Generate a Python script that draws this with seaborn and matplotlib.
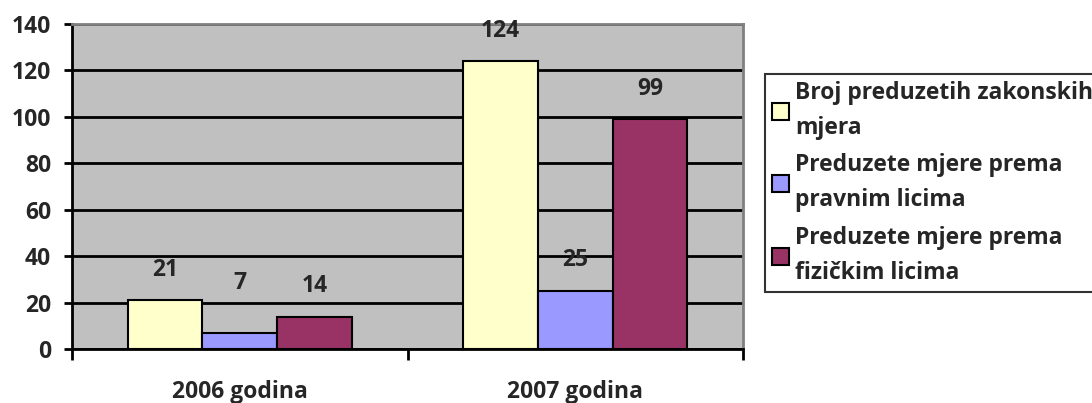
import matplotlib
matplotlib.use("Agg")
import matplotlib.pyplot as plt
import pandas as pd
import seaborn as sns

# === Data ===
years = ["2006 godina", "2007 godina"]
series = ["Broj preduzetih zakonskih\nmjera",
          "Preduzete mjere prema\npravnim licima",
          "Preduzete mjere prema\nfizičkim licima"]
broj_mjera = [21, 124]
pravna_lica = [7, 25]
fizicka_lica = [14, 99]
colors = ["#FFFFCC", "#9999FF", "#993366"]

df = pd.DataFrame({
    "godina": years * 3,
    "serija": [series[0]] * 2 + [series[1]] * 2 + [series[2]] * 2,
    "vrijednost": broj_mjera + pravna_lica + fizicka_lica,
})

sns.set_style("white")
plt.rcParams["font.family"] = ["Open Sans", "DejaVu Sans"]
plt.rcParams["font.weight"] = "bold"
FS = 16.5

fig = plt.figure(figsize=(10.92, 4.03), dpi=100)
ax = fig.add_axes([72 / 1092, 54 / 403, (743 - 72) / 1092, (349 - 24) / 403])
ax.set_facecolor("#C0C0C0")

sns.barplot(data=df, x="godina", y="vrijednost", hue="serija", hue_order=series,
            palette=colors, width=0.667, edgecolor="black", linewidth=1.5,
            saturation=1, ax=ax, zorder=3)

ax.set_xlim(-0.5, 1.5)
ax.set_ylim(0, 140)
ax.set_yticks(range(0, 141, 20))
ax.yaxis.grid(True, color="black", linewidth=2, zorder=0)
ax.set_axisbelow(True)

# value labels above each bar
offsets = {7: 36}
for cont in ax.containers:
    for bar in cont:
        h = bar.get_height()
        ax.annotate(f"{h:.0f}", (bar.get_x() + bar.get_width() / 2, h),
                    xytext=(0, offsets.get(int(h), 22)), textcoords="offset points",
                    ha="center", va="center", fontsize=FS, fontweight="bold")

# category ticks at group boundaries, labels centered below
ax.set_xticks([-0.5, 0.5, 1.5])
ax.set_xticklabels([])
ax.set_xticks([0, 1], minor=True)
ax.set_xticklabels(years, minor=True, fontsize=FS, fontweight="bold")
ax.tick_params(axis="x", which="major", direction="out", length=8, width=2, color="black", bottom=True)
ax.tick_params(axis="x", which="minor", length=0, pad=22)
ax.tick_params(axis="y", direction="out", length=6, width=2, color="black", left=True,
               labelsize=FS, pad=9)
for lab in ax.get_yticklabels():
    lab.set_fontweight("bold")

ax.set_xlabel("")
ax.set_ylabel("")

for s in ["top", "right"]:
    ax.spines[s].set_color("#808080")
    ax.spines[s].set_linewidth(2)
for s in ["left", "bottom"]:
    ax.spines[s].set_color("black")
    ax.spines[s].set_linewidth(2)

leg = ax.legend(loc="upper left", bbox_to_anchor=(765 / 1092, (403 - 74) / 403),
                bbox_transform=fig.transFigure, frameon=True, fancybox=False,
                prop={"size": FS, "weight": "bold"}, handlelength=0.75, handleheight=0.75,
                handletextpad=0.25, borderpad=0.3, labelspacing=0.6, borderaxespad=0)
leg.get_frame().set_edgecolor("black")
leg.get_frame().set_linewidth(1.5)
for h in leg.legend_handles:
    h.set_edgecolor("black")
    h.set_linewidth(1.5)
for t in leg.get_texts():
    t.set_linespacing(1.6)

plt.savefig("out.png", dpi=100)
plt.close()
